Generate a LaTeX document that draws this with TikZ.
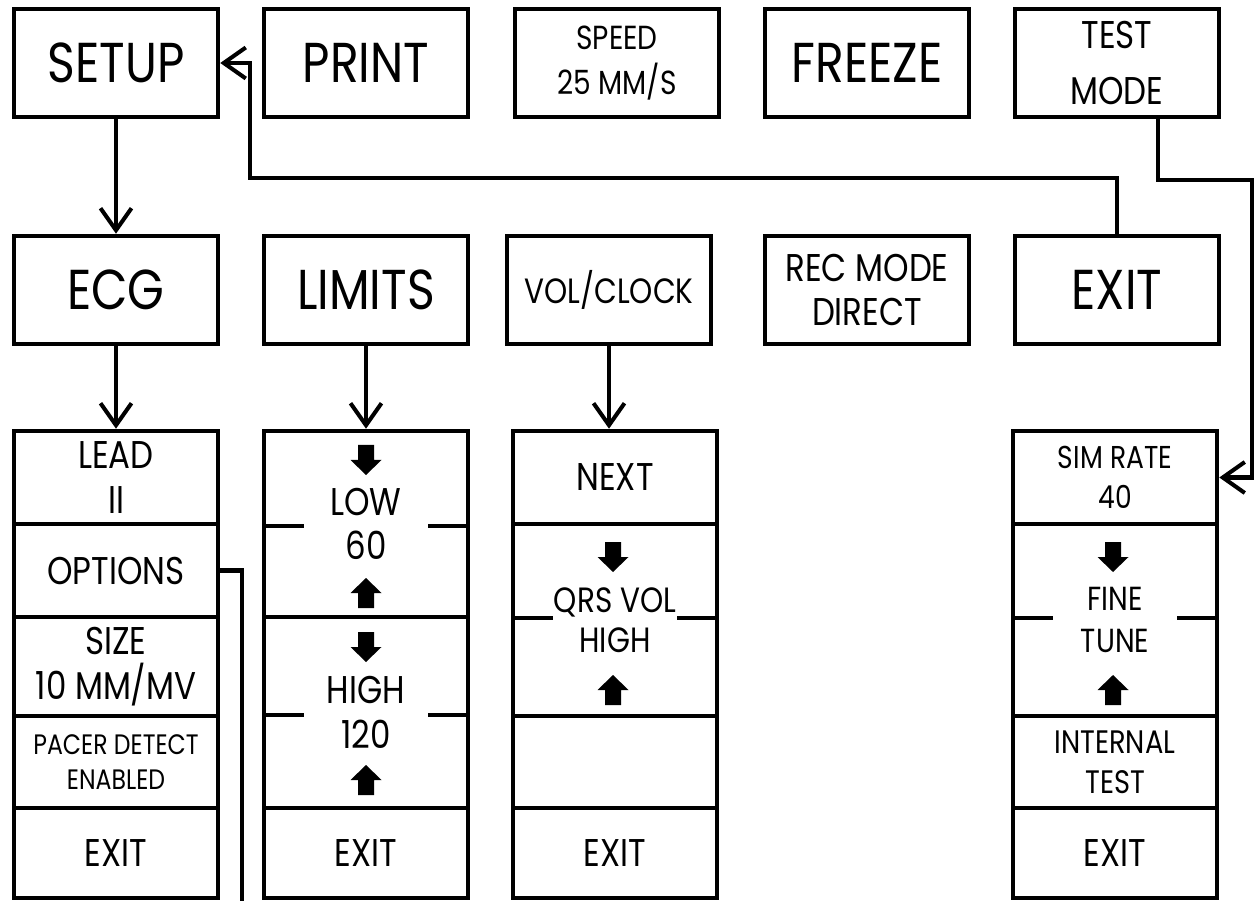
\documentclass[tikz,border=0pt]{standalone}
\usepackage{fontspec}
\setmainfont{Poppins}[FakeStretch=0.84]
\usetikzlibrary{arrows.meta}

% small solid arrows inside the menu columns (top point given)
\newcommand{\blockdn}[1]{\fill[shift={#1}] (-8,0) -- (8,0) -- (8,15) -- (15.5,15) -- (0,30) -- (-15.5,15) -- (-8,15) -- cycle;}
\newcommand{\blockup}[1]{\fill[shift={#1}] (0,0) -- (15.5,15) -- (8,15) -- (8,30) -- (-8,30) -- (-8,15) -- (-15.5,15) -- cycle;}
\newcommand{\fsz}[2]{\fontsize{#1}{#2}\selectfont}

\begin{document}
\begin{tikzpicture}
  [x=0.02cm,y=-0.02cm,line width=2.6pt,
   >={Straight Barb[length=0.44cm,width=0.62cm]},
   every node/.style={draw,line width=2.6pt,inner sep=0pt,align=center,minimum width=4.08cm},
   menu/.style={minimum height=2.16cm},
   big/.style={font=\fsz{32}{36}},
   mid/.style={font=\fsz{22}{25.5}},
   link/.style={->,line width=2.3pt}]
  \useasboundingbox (0,0) rectangle (1256,901);

  % top row
  \node (setup)  at (116,63)   [menu,big] {SETUP};
  \node (print)  at (366,63)   [menu,big] {PRINT};
  \node (speed)  at (617,63)   [menu,font=\fsz{19}{25.5}] {SPEED\\25 MM/S};
  \node (freeze) at (867,63)   [menu,big] {FREEZE};
  \node (test)   at (1117,63)  [menu,font=\fsz{22}{31.5}] {TEST\\MODE};

  % second row
  \node (ecg)    at (116,290)  [menu,big] {ECG};
  \node (limits) at (366,290)  [menu,big] {LIMITS};
  \node (vol)    at (609,290)  [menu,font=\fsz{20}{24}] {VOL/CLOCK};
  \node (rec)    at (867,290)  [menu,mid] {REC MODE\\DIRECT};
  \node (exitm)  at (1117,290) [menu,big] {EXIT};

  % ecg column
  \node (lead)   at (116,477.5) [mid,minimum height=1.86cm] {LEAD\\II};
  \node (opts)   at (116,570.5) [mid,minimum height=1.86cm] {OPTIONS};
  \node (size)   at (116,666.5) [mid,minimum height=1.98cm] {SIZE\\10 MM/MV};
  \node (pacer)  at (116,762)   [font=\fsz{16}{20},minimum height=1.84cm] {PACER DETECT\\ENABLED};
  \node (exita)  at (116,853)   [mid,minimum height=1.80cm] {EXIT};

  % limits column
  \node (low)    at (366,524)   [mid,minimum height=3.72cm] {LOW\\60};
  \node (high)   at (366,712.5) [mid,minimum height=3.82cm] {HIGH\\120};
  \node (exitb)  at (366,853)   [mid,minimum height=1.80cm] {EXIT};

  % vol/clock column
  \node (next)   at (615,477.5) [mid,minimum height=1.86cm] {NEXT};
  \node (qrs)    at (615,620)   [font=\fsz{20}{23},minimum height=3.84cm] {QRS VOL\\HIGH};
  \node (blank)  at (615,762)   [minimum height=1.84cm] {};
  \node (exitc)  at (615,853)   [mid,minimum height=1.80cm] {EXIT};

  % test column
  \node (sim)    at (1115,477.5) [font=\fsz{18}{23},minimum height=1.86cm] {SIM RATE\\40};
  \node (fine)   at (1115,620)   [font=\fsz{19}{24},minimum height=3.84cm] {FINE\\TUNE};
  \node (intern) at (1115,762)   [font=\fsz{18.5}{23},minimum height=1.84cm] {INTERNAL\\TEST};
  \node (exitd)  at (1115,853)   [mid,minimum height=1.80cm] {EXIT};

  % broken dividers
  \foreach \x/\y in {366/526,366/715,615/618,1115/618}
  {
    \draw (\x-101,\y) -- ++(39,0);
    \draw (\x+101,\y) -- ++(-39,0);
  }

  \blockdn{(366,445)} \blockup{(366,578)}
  \blockdn{(366,632)} \blockup{(366,765)}
  \blockdn{(613,542)} \blockup{(613,675)}
  \blockdn{(1113,542)} \blockup{(1113,675)}

  % connectors
  \foreach \from/\to in {setup/ecg,ecg/lead,limits/low}
    \draw[link] (\from) -- (\to);
  \draw[link] (vol.south) -- (vol.south |- next.north);

  \coordinate (backbend) at (250,178);
  \coordinate (testbend) at (1252,180);
  \coordinate (optend)   at (242,901);
  \draw[link] (exitm.north) |- (backbend) |- (setup.east);
  \draw[link] ([xshift=0.82cm]test.south) |- (testbend) |- (sim.east);
  \draw[line width=2.3pt] (opts.east) -| (optend);
\end{tikzpicture}
\end{document}
